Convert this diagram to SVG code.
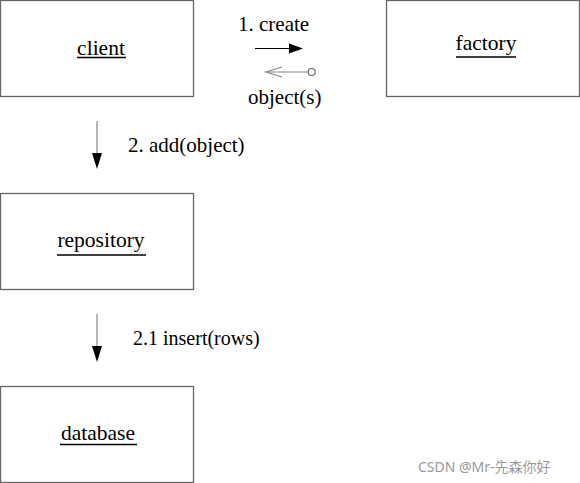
<svg xmlns="http://www.w3.org/2000/svg" width="580" height="483" viewBox="0 0 580 483">
<style>
.box{fill:#fff;stroke:#666;stroke-width:1.3}
.ul{stroke:#000;stroke-width:1.5}
.ln{stroke:#888;stroke-width:1.2;fill:none}
</style>
<rect width="580" height="483" fill="#fff"/>
<g id="client"><rect class="box" x="0.5" y="0.5" width="193" height="96"/><text x="101" y="55" text-anchor="middle" font-family="Times New Roman, Liberation Serif, serif" font-size="21.5">client</text><line class="ul" x1="77" y1="57.5" x2="126" y2="57.5"/></g>
<g id="factory"><rect class="box" x="386.5" y="0.5" width="193" height="96"/><text x="486" y="50" text-anchor="middle" font-family="Times New Roman, Liberation Serif, serif" font-size="21.5">factory</text><line class="ul" x1="456" y1="57" x2="516" y2="57"/></g>
<g id="repository"><rect class="box" x="0.5" y="193.5" width="193" height="96"/><text x="101" y="247" text-anchor="middle" font-family="Times New Roman, Liberation Serif, serif" font-size="21.5">repository</text><line class="ul" x1="57" y1="255" x2="146" y2="255"/></g>
<g id="database"><rect class="box" x="0.5" y="386.5" width="193" height="96"/><text x="98" y="440" text-anchor="middle" font-family="Times New Roman, Liberation Serif, serif" font-size="21.5">database</text><line class="ul" x1="60" y1="444.5" x2="137" y2="444.5"/></g>
<g id="connectors">
<line x1="255" y1="48.5" x2="290" y2="48.5" stroke="#000" stroke-width="1.2"/>
<polygon points="289,43.5 303,48.5 289,53.5" fill="#000"/>
<text x="238" y="31" font-family="Times New Roman, Liberation Serif, serif" font-size="21">1. create</text>
<line class="ln" x1="266" y1="72" x2="308" y2="72"/>
<polyline class="ln" points="282,67 266,72 282,77"/>
<circle cx="311.7" cy="72" r="3.5" fill="#fff" stroke="#666" stroke-width="1.2"/>
<text x="248" y="104" font-family="Times New Roman, Liberation Serif, serif" font-size="21">object(s)</text>
<line class="ln" x1="97" y1="121" x2="97" y2="154"/>
<polygon points="92,153 102,153 97,169" fill="#000"/>
<text x="128" y="152" font-family="Times New Roman, Liberation Serif, serif" font-size="21">2. add(object)</text>
<line class="ln" x1="97" y1="314" x2="97" y2="347"/>
<polygon points="92,346 102,346 97,362" fill="#000"/>
<text x="133" y="345" font-family="Times New Roman, Liberation Serif, serif" font-size="20">2.1 insert(rows)</text>
</g>
<text x="418" y="472" font-family="Noto Sans, Noto Sans CJK SC, sans-serif" font-size="14" fill="#999">CSDN @Mr-先森你好</text>
</svg>
